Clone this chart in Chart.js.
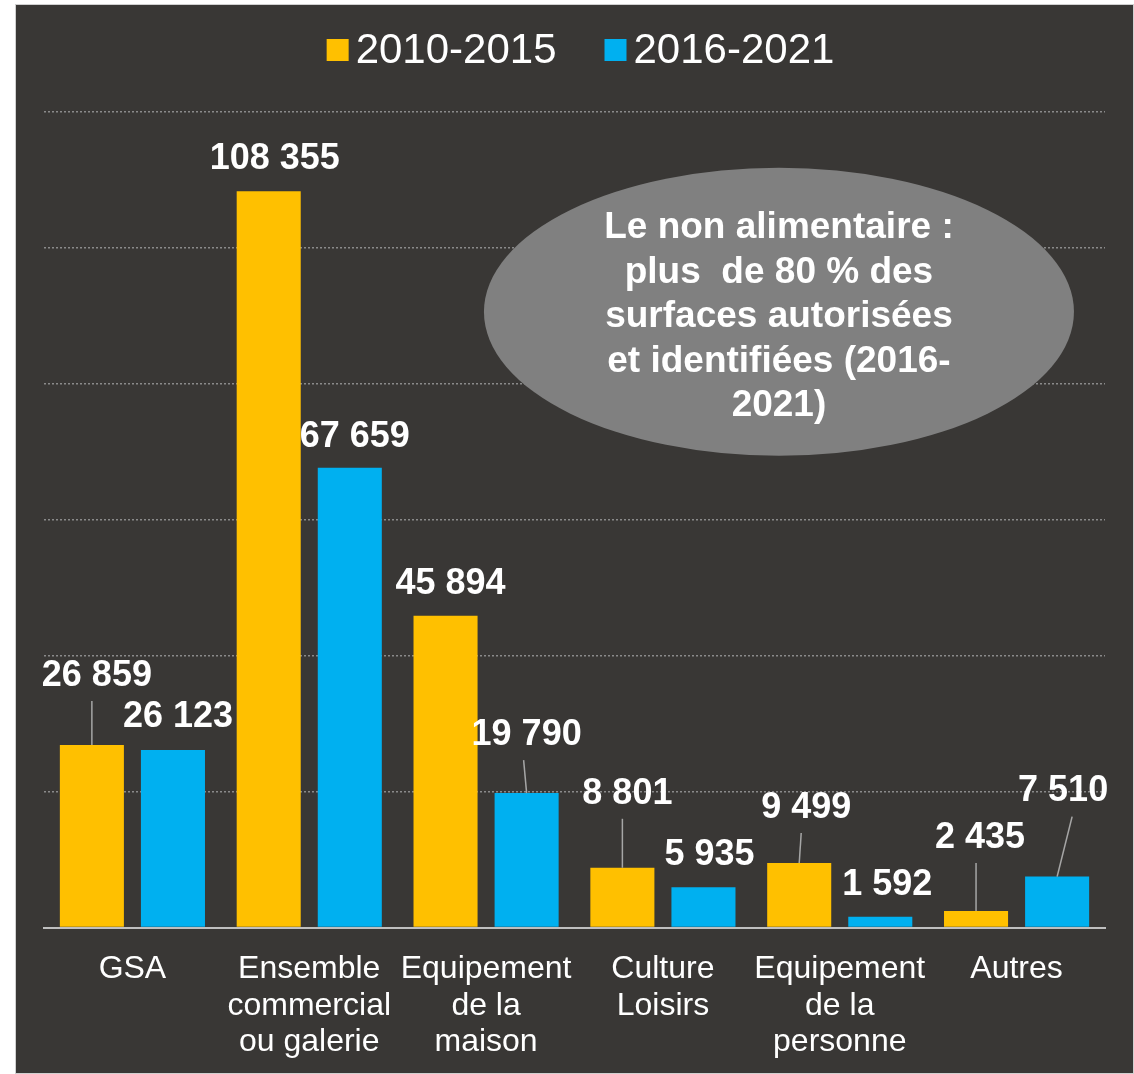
<!DOCTYPE html>
<html>
<head>
<meta charset="utf-8">
<script src="https://cdn.jsdelivr.net/npm/chart.js@4/dist/chart.umd.min.js"></script>
<style>
  html, body { margin: 0; padding: 0; background: #ffffff; }
  #wrap {
    position: absolute; left: 15px; top: 4px;
    width: 1117px; height: 1068px;
    background: #393735; border: 1px solid #d0d0d0;
  }
</style>
</head>
<body>
<div id="wrap"><canvas id="chart" width="1117" height="1068"></canvas></div>
<script>
const categories = [
  ["GSA"],
  ["Ensemble", "commercial", "ou galerie"],
  ["Equipement", "de la", "maison"],
  ["Culture", "Loisirs"],
  ["Equipement", "de la", "personne"],
  ["Autres"]
];
const seriesNames = ["2010-2015", "2016-2021"];
const values2010 = [26859, 108355, 45894, 8801, 9499, 2435];
const values2016 = [26123, 67659, 19790, 5935, 1592, 7510];
const yMax = 120000;
const yStep = 20000;
const noteLines = [
  "Le non alimentaire :",
  "plus  de 80 % des",
  "surfaces autorisées",
  "et identifiées (2016-",
  "2021)"
];

// label shifts [dx, dy, leaderTopDx] relative to the top centre of each bar
const labelShift = [
  [[5, -69, 0], [6, -32, 0], [5, -32, 0], [5, -74, 0], [7, -55, 2], [4, -73, 0]],
  [[5, -33, 0], [5, -31, 0], [0, -58, -3], [6, -32, 0], [7, -32, 0], [6, -85, 15]]
];

const fontFamily = "'Liberation Sans', Arial, sans-serif";
const colors = ["#FFC000", "#00B0F0"];

function fmt(v) {
  return String(v).replace(/\B(?=(\d{3})+(?!\d))/g, " ");
}

// legend drawn by hand so the box-to-text gap matches the original
const legendPlugin = {
  id: "legendPlugin",
  afterDraw(chart) {
    const ctx = chart.ctx;
    ctx.save();
    ctx.font = "42px " + fontFamily;
    ctx.textBaseline = "middle";
    ctx.textAlign = "left";
    const box = 22, gap = 7, itemGap = 48;
    const widths = seriesNames.map(s => ctx.measureText(s).width);
    const total = widths.reduce((a, w) => a + box + gap + w, 0) + itemGap * (seriesNames.length - 1);
    let x = chart.width / 2 + 6 - total / 2;
    const y = 45;
    seriesNames.forEach((name, i) => {
      ctx.fillStyle = colors[i];
      ctx.fillRect(x, y - box / 2, box, box);
      ctx.fillStyle = "#ffffff";
      ctx.fillText(name, x + box + gap, y + 1);
      x += box + gap + widths[i] + itemGap;
    });
    ctx.restore();
  }
};

const notePlugin = {
  id: "notePlugin",
  afterDatasetsDraw(chart) {
    const ctx = chart.ctx;
    const area = chart.chartArea;
    const cx = area.left + 0.6927 * (area.right - area.left);
    const cy = area.top + 0.245 * (area.bottom - area.top);
    ctx.save();
    ctx.fillStyle = "#808080";
    ctx.beginPath();
    ctx.ellipse(cx, cy, 295, 144, 0, 0, Math.PI * 2);
    ctx.fill();
    ctx.fillStyle = "#ffffff";
    ctx.font = "bold 37px " + fontFamily;
    ctx.textAlign = "center";
    ctx.textBaseline = "middle";
    noteLines.forEach((line, i) => {
      ctx.fillText(line, cx, cy - 84 + i * 44.5);
    });
    ctx.restore();
  }
};

const valueLabels = {
  id: "valueLabels",
  afterDatasetsDraw(chart) {
    const ctx = chart.ctx;
    ctx.save();
    ctx.font = "bold 36px " + fontFamily;
    ctx.textAlign = "center";
    ctx.textBaseline = "middle";
    chart.data.datasets.forEach((ds, di) => {
      const meta = chart.getDatasetMeta(di);
      meta.data.forEach((bar, i) => {
        const [dx, dy, ldx] = labelShift[di][i];
        const tx = bar.x + dx;
        const ty = bar.y + dy;
        if (dy < -40) {
          ctx.strokeStyle = "#a6a6a6";
          ctx.lineWidth = 1.5;
          ctx.beginPath();
          ctx.moveTo(bar.x, bar.y);
          ctx.lineTo(bar.x + ldx, ty + 25);
          ctx.stroke();
        }
        ctx.fillStyle = "#ffffff";
        ctx.fillText(fmt(ds.data[i]), tx, ty);
      });
    });
    ctx.restore();
  }
};

Chart.defaults.font.family = fontFamily;

new Chart(document.getElementById("chart").getContext("2d"), {
  type: "bar",
  data: {
    labels: categories,
    datasets: [
      { label: seriesNames[0], data: values2010, backgroundColor: colors[0] },
      { label: seriesNames[1], data: values2016, backgroundColor: colors[1] }
    ]
  },
  options: {
    responsive: false,
    animation: false,
    categoryPercentage: 0.917,
    barPercentage: 0.79,
    layout: { padding: { left: 28, right: 28, top: 107, bottom: -3 } },
    plugins: {
      legend: { display: false },
      tooltip: { enabled: false }
    },
    scales: {
      x: {
        grid: { display: false },
        border: { display: true, color: "#bfbfbf", width: 2 },
        ticks: {
          color: "#ffffff",
          font: { size: 32, lineHeight: 1.15 },
          padding: 15,
          maxRotation: 0,
          autoSkip: false
        }
      },
      y: {
        min: 0,
        max: yMax,
        ticks: { display: false, stepSize: yStep },
        grid: {
          drawTicks: false,
          color: ctx => ctx.tick.value === 0 ? "rgba(0,0,0,0)" : "#8a8a8a",
          lineWidth: 1.5
        },
        border: { display: false, dash: [2, 2] }
      }
    }
  },
  plugins: [notePlugin, valueLabels, legendPlugin]
});
</script>
</body>
</html>
